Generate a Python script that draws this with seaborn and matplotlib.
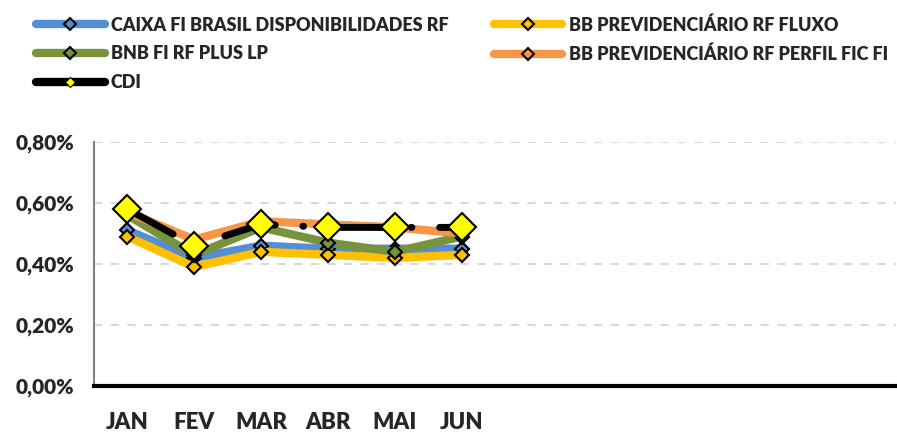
import numpy as np
import pandas as pd
import seaborn as sns
import matplotlib.pyplot as plt
from matplotlib.lines import Line2D
from matplotlib.ticker import FuncFormatter

months = ['JAN', 'FEV', 'MAR', 'ABR', 'MAI', 'JUN']
all_months = months + [''] * 6

caixa = [0.51, 0.42, 0.46, 0.45, 0.45, 0.45]
bb_fluxo = [0.49, 0.39, 0.44, 0.43, 0.42, 0.43]
bnb = [0.56, 0.43, 0.52, 0.47, 0.44, 0.49]
bb_perfil = [0.57, 0.48, 0.54, 0.53, 0.52, 0.50]
cdi = [0.58, 0.46, 0.53, 0.52, 0.52, 0.52]

series = [
    ('CAIXA FI BRASIL DISPONIBILIDADES RF', caixa, '#558ED5'),
    ('BB PREVIDENCIÁRIO RF FLUXO', bb_fluxo, '#FFC000'),
    ('BNB FI RF PLUS LP', bnb, '#77933C'),
    ('BB PREVIDENCIÁRIO RF PERFIL FIC FI', bb_perfil, '#F79646'),
]

sns.set_style('white')
plt.rcParams['font.family'] = ['Lato', 'DejaVu Sans']
plt.rcParams['font.weight'] = 'heavy'

fig = plt.figure(figsize=(8.97, 4.32), dpi=100)
ax = fig.add_axes([94 / 897, 1 - 386 / 432, 1 - 95 / 897, (386 - 142) / 432])

x = np.arange(len(months))
handles = {}
for name, vals, col in series:
    df = pd.DataFrame({'x': x, 'y': vals})
    sns.lineplot(data=df, x='x', y='y', ax=ax, color=col, linewidth=6,
                 marker='D', markersize=7, markerfacecolor=col,
                 markeredgecolor='black', markeredgewidth=1.5, legend=False)
    handles[name] = Line2D([], [], color=col, linewidth=6, marker='D', markersize=6,
                           markerfacecolor=col, markeredgecolor='black',
                           markeredgewidth=1.5, solid_capstyle='round')

df = pd.DataFrame({'x': x, 'y': cdi})
sns.lineplot(data=df, x='x', y='y', ax=ax, color='black', linewidth=5,
             legend=False)
ax.lines[-1].set_dashes([7.5, 4, 0.1, 4])
ax.lines[-1].set_dash_capstyle('round')
ax.plot(x, cdi, linestyle='none', marker='D', markersize=14,
        markerfacecolor='#FFFF00', markeredgecolor='black', markeredgewidth=1.5, zorder=5)
handles['CDI'] = Line2D([], [], color='black', linewidth=6, marker='D', markersize=5,
                        markerfacecolor='#FFFF00', markeredgecolor='black',
                        markeredgewidth=0.8, solid_capstyle='round')

ax.set_xlim(-0.5, 11.5)
ax.set_ylim(0, 0.8)
ax.set_yticks([0, 0.2, 0.4, 0.6, 0.8])
ax.yaxis.set_major_formatter(FuncFormatter(lambda v, p: f'{v:.2f}%'.replace('.', ',')))
ax.set_xticks(np.arange(-0.5, 12, 1))
ax.set_xticklabels([])
ax.set_xticks(np.arange(12), minor=True)
ax.set_xticklabels(all_months, minor=True)
ax.tick_params(axis='x', which='major', length=6, width=2.5, color='black', direction='out')
ax.tick_params(axis='x', which='minor', length=0, pad=19, labelsize=16)
ax.tick_params(axis='y', length=5, width=1.5, color='#808080', labelsize=15, pad=9)
ax.set_xlabel('')
ax.set_ylabel('')

ax.grid(axis='y', color='#D9D9D9', linestyle=(0, (4, 4)), linewidth=1.5)
ax.set_axisbelow(True)
for s in ['top', 'right']:
    ax.spines[s].set_visible(False)
ax.spines['left'].set_color('#808080')
ax.spines['left'].set_linewidth(1.5)
ax.spines['bottom'].set_color('black')
ax.spines['bottom'].set_linewidth(3)
ax.spines['bottom'].set_zorder(6)

order = ['CAIXA FI BRASIL DISPONIBILIDADES RF', 'BNB FI RF PLUS LP', 'CDI',
         'BB PREVIDENCIÁRIO RF FLUXO', 'BB PREVIDENCIÁRIO RF PERFIL FIC FI']
fig.legend([handles[k] for k in order], order, ncol=2, loc='upper left',
           bbox_to_anchor=(0.022, 1.0), frameon=False, handlelength=3.8,
           handletextpad=0.35, columnspacing=2.5, labelspacing=0.65,
           prop={'weight': 'heavy', 'size': 13})

fig.savefig('out.png', dpi=100)
